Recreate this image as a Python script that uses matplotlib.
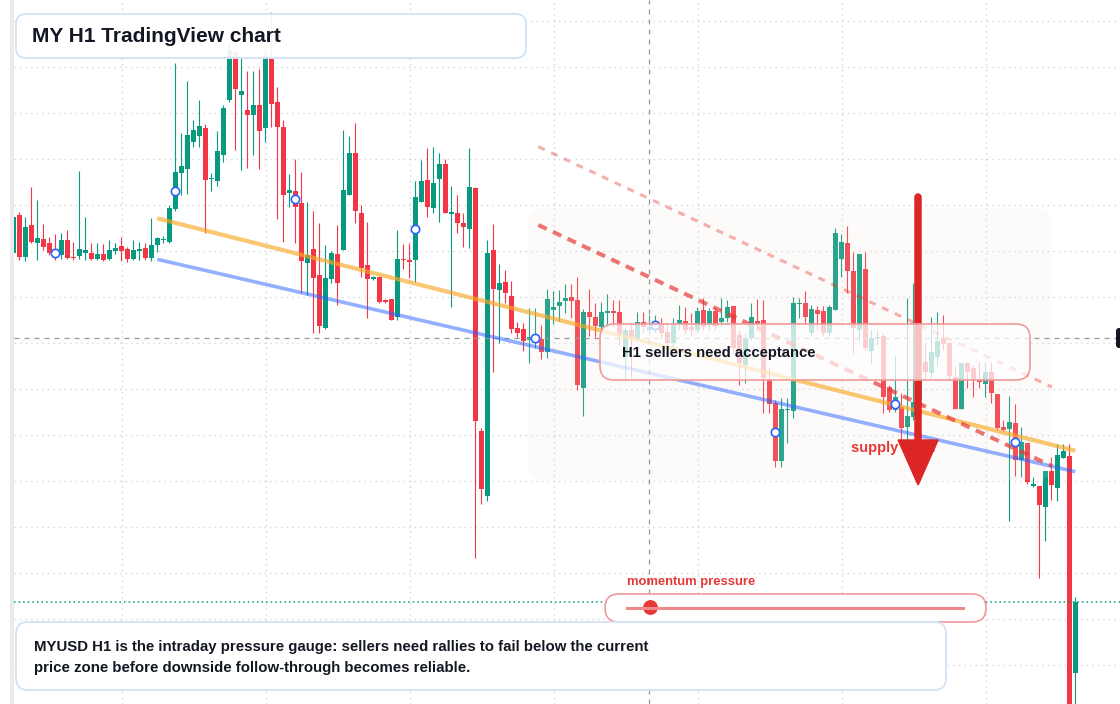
import matplotlib
matplotlib.use("Agg")
import matplotlib.pyplot as plt
from matplotlib.patches import FancyBboxPatch, Rectangle, Polygon, Circle
from matplotlib.lines import Line2D
from matplotlib.transforms import IdentityTransform
from matplotlib.ticker import MultipleLocator

plt.rcParams['font.family'] = ['Liberation Sans', 'DejaVu Sans']

W, H = 1120, 704
GREEN = '#089981'
RED = '#f23645'
INK = '#131722'

# H1 candles, price in chart points (one bar per hour)
opens = [747, 785, 743, 775, 757, 761, 757, 750, 745, 760,
         743, 744, 747, 747, 741, 746, 741, 749, 754, 751,
         741, 749.5, 752, 742, 755, 760, 758, 791, 827, 831,
         858, 864, 872, 821, 819, 845, 900, 948, 905, 890,
         885, 895, 872, 941, 898, 873, 807.5, 809, 797, 737,
         751, 725, 672, 721, 746, 750, 805, 847, 787, 735,
         721.5, 723, 700, 701, 683, 741, 739.5, 740, 798, 820,
         792, 821, 836, 786.5, 787, 777, 771, 812, 569, 504,
         750, 710, 718, 704, 672, 671, 660, 660, 661, 648,
         690, 694, 699, 703, 700, 612, 688, 683, 673, 687,
         689, 688, 643, 670, 662, 678, 670, 673, 675, 668,
         657, 676, 679, 673, 670, 690, 676, 689, 678, 682,
         694, 665, 635, 662, 679, 680, 621, 597, 539, 590,
         589, 696, 697, 667, 690, 689, 667, 690, 741, 757,
         729, 670, 731, 649, 662, 664, 613, 590, 593, 573,
         583, 600, 638, 627, 643, 662, 657, 623, 591, 637,
         632, 619.5, 616, 628, 606, 573, 571, 577, 540, 557,
         514.5, 514, 493, 529, 512, 542, 544, 327]
highs = [788, 788, 783, 813, 800, 776, 763, 766, 767, 770,
         758, 829, 783, 757, 757, 756, 760, 757, 763, 753,
         760, 758, 757, 782, 763, 764, 795, 937, 867, 919,
         880, 900, 876, 827, 869, 895, 958, 949, 942, 929,
         929, 931, 957, 988, 913, 880, 826, 841, 828, 798,
         789, 777, 755, 749, 775, 870, 864, 877, 795, 778,
         724, 723, 701, 701, 770, 756, 757, 819, 840, 852,
         853, 847, 841, 814, 805, 787, 852, 813, 572, 760,
         776, 736, 730, 719, 678, 677, 692, 692, 675, 711,
         709, 710, 716, 716, 723, 691, 711, 697, 698, 706,
         700, 700, 673, 677, 688, 688, 685, 685, 682, 677,
         682, 695, 693, 687, 693, 702, 692, 692, 702, 700,
         694, 670, 667, 697, 701, 700, 633, 600, 602, 602,
         703, 702, 709, 695, 694, 694, 695, 772, 766, 774,
         748, 746, 748, 670, 670, 667, 615, 645, 607, 702,
         717, 690, 657, 683, 688, 685, 657, 633, 637, 638,
         635, 638, 638, 638, 606, 580, 604, 596, 573, 557,
         523, 514, 529, 543, 556, 556, 556, 403]
lows = [742, 740, 739, 757, 740, 750, 745, 740, 741, 741,
        740, 741, 740, 740, 740, 739, 740, 746, 739, 738,
        740, 740, 740, 739, 748, 757, 757, 789, 805, 806,
        853, 853, 767, 809, 814, 838, 898, 850, 830, 832,
        845, 831, 858, 873, 781, 758, 793, 757, 707, 705,
        667, 667, 671, 717, 695, 750, 805, 777, 723, 682,
        720, 697, 697, 680, 680, 731, 722, 718, 798, 783,
        787, 778, 787, 693, 767, 753, 752, 442, 496, 499,
        628, 657, 697, 667, 663, 649, 637, 652, 641, 642,
        676, 679, 687, 682, 610, 584, 664, 663, 670, 673,
        673, 655, 620, 623, 660, 668, 665, 668, 662, 650,
        652, 670, 666, 665, 667, 670, 670, 670, 674, 678,
        648, 615, 617, 660, 670, 587, 587, 533, 533, 557,
        582, 682, 676, 664, 670, 664, 664, 690, 723, 707,
        647, 660, 650, 637, 655, 587, 588, 588, 559, 559,
        580, 590, 622, 622, 635, 650, 620, 591, 591, 612,
        603, 612, 603, 597, 570, 569, 479, 524, 523, 516,
        513, 422, 459, 500, 499, 542, 260, 260]
closes = [783, 743, 773, 758, 762, 753, 747, 745, 760, 742,
          742, 751, 750, 741, 746, 740, 750, 752, 749, 741,
          750, 750.5, 742, 755, 762, 761, 792, 828, 834, 865,
          870, 874, 820, 822, 849, 892, 950, 911, 909, 885,
          895, 869, 945, 896, 873, 805, 810, 793, 739, 745,
          722, 674, 722, 747, 717, 810, 847, 789, 732, 721,
          723, 698, 698, 680, 741, 740, 738.5, 803, 819, 793,
          817, 836, 787, 787.5, 777, 773, 813, 579, 511, 747,
          711, 717, 707, 671, 667, 659, 663, 665, 648, 701,
          693, 698, 702, 699, 615, 688, 683, 674, 688, 689,
          687, 665, 670, 662, 678, 673, 673, 676.5, 667, 657,
          675, 680, 670, 670, 689, 673, 689, 674, 682, 693,
          652, 637, 662, 683, 676, 622, 596, 539, 591, 591,
          697, 697, 683, 691, 686, 667, 693, 767, 758, 729,
          672, 746, 652, 662, 663, 603, 590, 603, 572, 584,
          598, 620, 628, 648, 659, 656, 624, 591, 637, 628,
          620, 618.5, 628, 607, 572, 570, 578, 540, 558, 518,
          515.5, 495, 529, 515, 545, 549, 270, 398]

# drawings: (bar index, price)
trend_upper_x, trend_upper_y = [24, 177], [781.7, 549.3]
trend_lower_x, trend_lower_y = [24, 177], [740.7, 528.3]
channel_top_x, channel_top_y = [87.5, 173.1], [853.3, 613]
channel_mid_x, channel_mid_y = [87.5, 173.1], [775, 534]
marker_every, marker_first = 20, 7
cross_bar, cross_price = 106, 662
arrow_bar, arrow_from, arrow_to = 150.8, 803, 515
momentum_value = 0.07

fig = plt.figure(figsize=(W / 100, H / 100), dpi=100)
fig.patch.set_facecolor('white')
ax = fig.add_axes([14 / W, 0, 1 - 14 / W, 1])
ax.set_xlim(0.12, 184.45)
ax.set_ylim(296, 1000)
for s in ax.spines.values():
    s.set_visible(False)
ax.tick_params(length=0, labelleft=False, labelbottom=False)
ax.xaxis.set_major_locator(MultipleLocator(24, offset=18.07))
ax.yaxis.set_major_locator(MultipleLocator(46, offset=13.3))
ax.grid(True, color='#d3d5db', linestyle=(0, (1, 3)), linewidth=1.0, zorder=0)
ax.set_axisbelow(True)

# candles
for i, (o, h, l, c) in enumerate(zip(opens, highs, lows, closes)):
    col = GREEN if c >= o else RED
    ax.vlines(i, l, h, color=col, linewidth=0.8, zorder=2)
    ax.bar(i, max(abs(c - o), 1.5), bottom=min(o, c), width=0.78,
           color=col, linewidth=0, zorder=2)

PIX = IdentityTransform()


def px_box(target, x0, y0, x1, y1, r, **kw):
    p = FancyBboxPatch((x0, H - y1), x1 - x0, y1 - y0,
                       boxstyle=f"round,pad=0,rounding_size={r}",
                       transform=PIX, **kw)
    if target is fig:
        fig.add_artist(p)
    else:
        p.set_clip_on(False)
        target.add_patch(p)
    return p


# supply zone shading
px_box(ax, 527, 208, 1052, 480, 16, facecolor='#f7e6da', alpha=0.15,
       linewidth=0, zorder=3)

# crosshair and last price line
ax.axvline(cross_bar, color='#9598a1', linestyle=(0, (4, 4)), linewidth=0.9, zorder=4)
ax.axhline(cross_price, color='#9598a1', linestyle=(0, (4, 4)), linewidth=0.9, zorder=4)
ax.axhline(closes[-1], color=GREEN, linestyle=(0, (1, 2)), linewidth=1.1, zorder=4)

# trend lines and channel
ax.plot(trend_upper_x, trend_upper_y, color='#f9a825', alpha=0.65, linewidth=3,
        solid_capstyle='butt', zorder=5)
ax.plot(trend_lower_x, trend_lower_y, color='#2962ff', alpha=0.5, linewidth=2.6,
        solid_capstyle='butt', zorder=5)
ax.plot(channel_top_x, channel_top_y, color='#e53935', alpha=0.4, linewidth=2.2,
        linestyle=(0, (2.3, 2.3)), zorder=5)
ax.plot(channel_mid_x, channel_mid_y, color='#e53935', alpha=0.7, linewidth=2.9,
        linestyle=(0, (2.3, 1.7)), zorder=5)

# pivot markers on bar bodies
mk = list(range(marker_first, len(opens), marker_every))
ax.plot(mk, [(opens[i] + closes[i]) / 2 for i in mk], 'o', markersize=6.0,
        markerfacecolor='white', markeredgecolor='#2962ff', markeredgewidth=1.2,
        linestyle='none', zorder=6)

# supply zone label and arrow
ax.text(139.6, 552, 'supply zone', color='#e53935', fontsize=10.5,
        fontweight='bold', va='center', ha='left', zorder=7)
ax.plot([arrow_bar, arrow_bar], [arrow_from, arrow_to + 45], color='#dc2626',
        linewidth=5.4, solid_capstyle='round', zorder=8)
ax.add_patch(Polygon([(arrow_bar - 3.33, arrow_to + 45), (arrow_bar + 3.33, arrow_to + 45),
                      (arrow_bar, arrow_to)], closed=True, color='#dc2626', zorder=8))

# left scale strip and right price tag
fig.add_artist(Rectangle((10, 0), 4, H, transform=PIX, color='#ebebeb', linewidth=0))
px_box(fig, 1116, 328, 1135, 348, 3, facecolor=INK, edgecolor='none')

# acceptance box
px_box(fig, 600, 324, 1030, 380, 14, facecolor=(1, 1, 1, 0.72),
       edgecolor='#ef9a9a', linewidth=1.2)
fig.text(622 / W, 1 - 353 / H, 'H1 sellers need acceptance', fontsize=10.7,
         fontweight='bold', color=INK, va='center', ha='left')

# title box
px_box(fig, 16, 14, 526, 58, 10, facecolor=(1, 1, 1, 0.92),
       edgecolor='#d6e3f7', linewidth=1.4)
fig.text(32 / W, 1 - 36 / H, 'MY H1 TradingView chart', fontsize=15,
         fontweight='bold', color=INK, va='center', ha='left')

# momentum gauge
px_box(fig, 605, 594, 986, 622, 14, facecolor='white', edgecolor='#ef9a9a', linewidth=1.2)
gx0, gx1, gy = 627, 963, 607.5
fig.add_artist(Line2D([gx0, gx1], [H - gy, H - gy], transform=PIX,
                      color='#f08a8a', linewidth=2.2))
fig.add_artist(Circle((gx0 + momentum_value * (gx1 - gx0), H - gy), 6.7,
                      transform=PIX, color='#e53935'))
fig.text(627 / W, 1 - 582 / H, 'momentum pressure', fontsize=9.4,
         fontweight='bold', color='#e53935', va='center', ha='left')

# bottom note
px_box(fig, 16, 622, 946, 690, 12, facecolor='white', edgecolor='#d6e3f7', linewidth=1.4)
fig.text(34 / W, 1 - 647 / H,
         'MYUSD H1 is the intraday pressure gauge: sellers need rallies to fail below the current',
         fontsize=10.8, fontweight='bold', color=INK, va='center', ha='left')
fig.text(34 / W, 1 - 668 / H,
         'price zone before downside follow-through becomes reliable.',
         fontsize=10.8, fontweight='bold', color=INK, va='center', ha='left')

fig.savefig('out.png', dpi=100)
